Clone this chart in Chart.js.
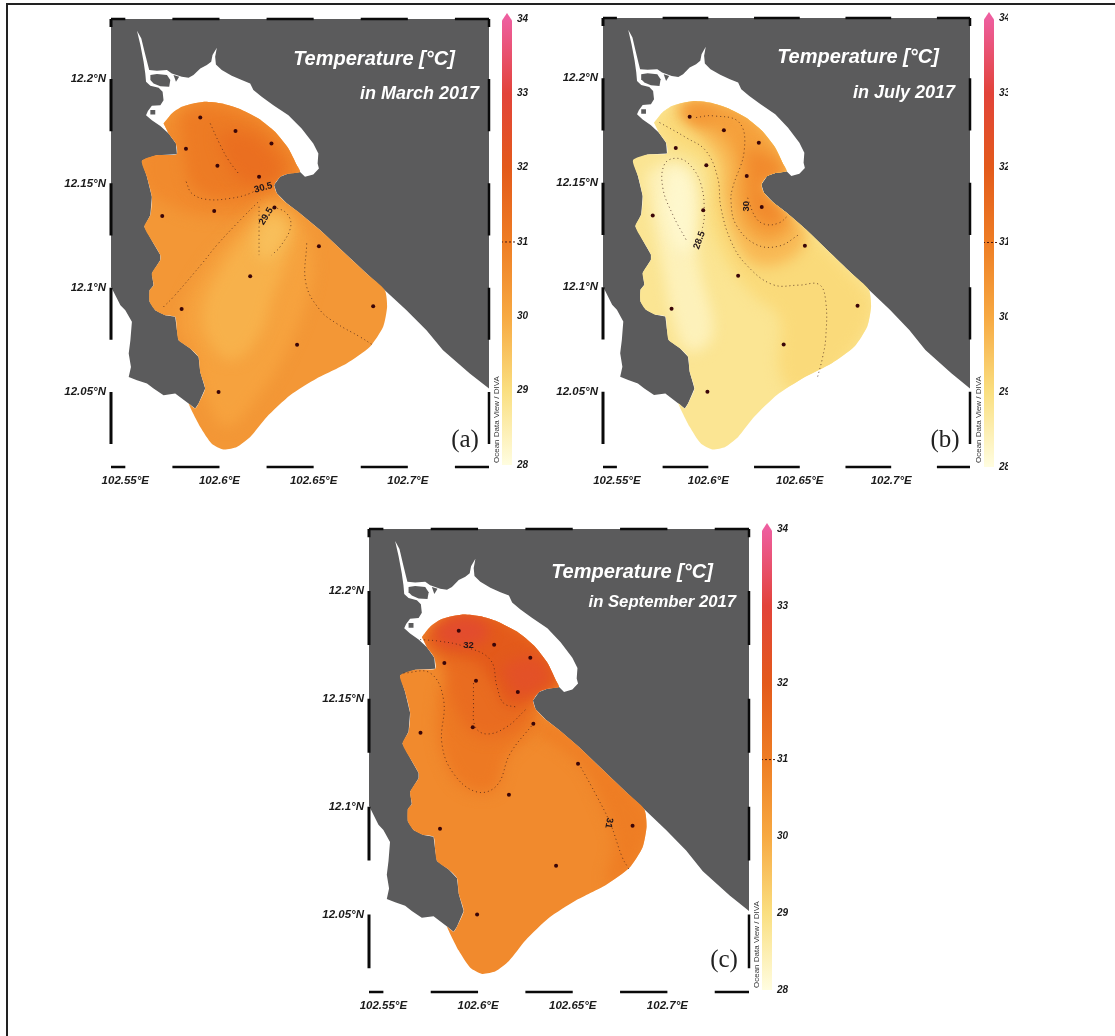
<!DOCTYPE html>
<html>
<head>
<meta charset="utf-8">
<title>Temperature maps 2017</title>
<script src="https://cdn.jsdelivr.net/npm/chart.js@4"></script>
<style>
html, body { margin: 0; padding: 0; background: #fff; }
body { position: relative; width: 1115px; height: 1036px; overflow: hidden; }
canvas { position: absolute; }
.rule { position: absolute; background: #222; }
</style>
</head>
<body>
<div class="rule" style="left:6px;top:3px;width:1109px;height:2px"></div>
<div class="rule" style="left:6px;top:3px;width:2px;height:1033px"></div>
<script>
// axis domain and ticks
const lonRange = [102.5424, 102.7431];
const latRange = [12.014, 12.2288];
const lonTicks = [102.55, 102.6, 102.65, 102.7];
const latTicks = [12.05, 12.1, 12.15, 12.2];
const lonBars = [[102.5424, 102.55], [102.575, 102.6], [102.625, 102.65], [102.675, 102.7], [102.725, 102.7431]];
const latBars = [[12.2288, 12.225], [12.2, 12.175], [12.15, 12.125], [12.1, 12.075], [12.05, 12.025]];

// colour bar
const colorTemps = [28, 29, 30, 31, 32, 33, 34];
const colorHex = ['#FFFDE0', '#FADF80', '#F7A942', '#EE7D24', '#E35A1B', '#E2433A', '#EE5E9E'];
const barTicks = [28, 29, 30, 31, 32, 33, 34];

// sampling stations [lon, lat]
const stations = [[102.5898,12.1816],[102.6085,12.1751],[102.6276,12.1691],[102.5822,12.1666],[102.5989,12.1584],
  [102.6210,12.1532],[102.6292,12.1384],[102.5972,12.1368],[102.5696,12.1343],[102.6528,12.1199],
  [102.6163,12.1055],[102.5799,12.0897],[102.6816,12.0911],[102.6412,12.0726],[102.5995,12.0500]];

// coast pieces [lon, lat]
const northShore = [[102.5562,12.2232],[102.5585,12.2195],[102.5602,12.2131],[102.5620,12.2067],[102.5627,12.2043],[102.5668,12.2040],
  [102.5721,12.2043],[102.5747,12.2027],[102.5800,12.2011],[102.5836,12.2006],[102.5862,12.2019],[102.5898,12.2051],[102.5933,12.2067],
  [102.5956,12.2083],[102.5963,12.2115],[102.5986,12.2150],[102.5977,12.2107],[102.5981,12.2070],[102.6012,12.2043],[102.6065,12.2016],
  [102.6118,12.1995],[102.6163,12.1979],[102.6180,12.1947],[102.6224,12.1915],[102.6286,12.1875],[102.6366,12.1827],[102.6436,12.1763],
  [102.6498,12.1691],[102.6525,12.1643],[102.6521,12.1595],[102.6528,12.1571],[102.6498,12.1543],[102.6454,12.1532]];
const eastCoast = [[102.6428,12.1555],[102.6366,12.1547],[102.6322,12.1532],[102.6290,12.1492],[102.6304,12.1452],[102.6357,12.1404],
  [102.6428,12.1356],[102.6534,12.1276],[102.6657,12.1172],[102.6781,12.1068],[102.6878,12.0988]];
const seaEast = [[102.6993,12.0892],[102.7099,12.0796],[102.7187,12.0700],[102.7329,12.0588],[102.7431,12.0516],
  [102.7431,12.014],[102.5424,12.014],[102.5424,12.1004]];
const southWest = [[102.5474,12.0916],[102.5500,12.0892],[102.5535,12.0836],[102.5527,12.0748],[102.5518,12.0684],[102.5530,12.0620],
  [102.5518,12.0572],[102.5562,12.0556],[102.5615,12.0540],[102.5650,12.0516],[102.5703,12.0484],[102.5765,12.0492]];
const westCoast = [[102.5836,12.0444],[102.5871,12.0420],[102.5889,12.0444],[102.5924,12.0516],[102.5898,12.0596],[102.5889,12.0668],
  [102.5845,12.0708],[102.5783,12.0748],[102.5774,12.0796],[102.5765,12.0860],[102.5712,12.0868],[102.5659,12.0892],[102.5629,12.0932],
  [102.5629,12.0988],[102.5650,12.1012],[102.5641,12.1068],[102.5686,12.1132],[102.5686,12.1156],[102.5650,12.1212],[102.5601,12.1292],
  [102.5633,12.1348],[102.5641,12.1436],[102.5615,12.1532],[102.5588,12.1608],[102.5668,12.1635],[102.5774,12.1640],[102.5769,12.1691],[102.5730,12.1739]];
const estuaryWest = [[102.5686,12.1775],[102.5641,12.1803],[102.5610,12.1827],[102.5620,12.1847],[102.5641,12.1872],[102.5686,12.1875],
  [102.5703,12.1899],[102.5698,12.1939],[102.5677,12.1958],[102.5633,12.1968],[102.5610,12.1987],[102.5606,12.2027],[102.5597,12.2083],[102.5580,12.2163]];
const islands = [
  [[102.5633,12.2019],[102.5668,12.2024],[102.5721,12.2019],[102.5739,12.1995],[102.5733,12.1963],[102.5686,12.1966],[102.5650,12.1979],[102.5633,12.1995]],
  [[102.5633,12.1852],[102.5659,12.1852],[102.5659,12.1830],[102.5633,12.1830]],
  [[102.5756,12.2019],[102.5786,12.2011],[102.5769,12.1987]]
];
const plumeNorth = [[102.5703,12.1787],[102.5747,12.1835],[102.5800,12.1867],[102.5862,12.1883],[102.5924,12.1891],[102.6012,12.1883],
  [102.6101,12.1859],[102.6207,12.1811],[102.6295,12.1747],[102.6366,12.1667],[102.6410,12.1588]];
const plumeSouth = [[102.6890,12.0908],[102.6869,12.0812],[102.6799,12.0716],[102.6675,12.0636],[102.6516,12.0564],[102.6375,12.0484],
  [102.6251,12.0380],[102.6163,12.0284],[102.6092,12.0236],[102.6021,12.0224],[102.5959,12.0252],[102.5898,12.0332]];

// March: temperature bands and isotherms
const marchBase = 30.4;
const marchBandTemps = [30.7, 31.05, 31.4, 30.15, 29.85, 29.6];
const marchBands = [
  [[102.5686,12.1775],[102.5924,12.1915],[102.6207,12.1835],[102.6445,12.1564],[102.6286,12.1436],[102.6145,12.1356],[102.5933,12.1340],[102.5756,12.1388],[102.5597,12.1484],[102.5580,12.1627]],
  [[102.5792,12.1827],[102.5933,12.1867],[102.6198,12.1787],[102.6375,12.1627],[102.6392,12.1547],[102.6286,12.1484],[102.6145,12.1436],[102.5951,12.1436],[102.5845,12.1500],[102.5809,12.1659]],
  [[102.5986,12.1739],[102.6145,12.1739],[102.6286,12.1643],[102.6322,12.1547],[102.6233,12.1500],[102.6110,12.1516],[102.6039,12.1595]],
  [[102.6251,12.1420],[102.6428,12.1324],[102.6498,12.1132],[102.6463,12.0940],[102.6357,12.0700],[102.6216,12.0492],[102.6039,12.0332],[102.5933,12.0460],[102.5862,12.0700],[102.5792,12.0844],[102.5898,12.1068],[102.6110,12.1292]],
  [[102.6269,12.1388],[102.6392,12.1308],[102.6357,12.1132],[102.6286,12.0972],[102.6216,12.0780],[102.6074,12.0652],[102.5951,12.0732],[102.5915,12.0908],[102.6039,12.1132],[102.6163,12.1276]],
  [[102.6286,12.1356],[102.6357,12.1292],[102.6322,12.1196],[102.6251,12.1132],[102.6198,12.1164],[102.6198,12.1276]]
];
const marchIsotherms = [
  [[102.5951,12.1787],[102.6000,12.1691],[102.6048,12.1611],[102.6101,12.1547]],
  [[102.5823,12.1508],[102.5853,12.1452],[102.5933,12.1423],[102.6057,12.1428],[102.6163,12.1452],[102.6216,12.1484]],
  [[102.5703,12.0908],[102.5756,12.0956],[102.5915,12.1124],[102.5986,12.1204],[102.6127,12.1340],[102.6216,12.1420]],
  [[102.6286,12.1388],[102.6357,12.1356],[102.6378,12.1292],[102.6322,12.1196],[102.6277,12.1156]],
  [[102.6210,12.1388],[102.6210,12.1260],[102.6210,12.1156]],
  [[102.6463,12.1212],[102.6459,12.1020],[102.6534,12.0892],[102.6622,12.0828],[102.6746,12.0764],[102.6816,12.0724]]
];

// July
const julyBase = 28.8;
const julyBandTemps = [29.1, 29.7, 30.2, 30.7, 30.4, 28.4, 28.2];
const julyBands = [
  [[102.5696,12.1788],[102.5915,12.1891],[102.6206,12.1843],[102.6405,12.1668],[102.6442,12.1540],[102.6296,12.1476],[102.6387,12.1396],[102.6878,12.0965],[102.6887,12.0853],[102.6769,12.0677],[102.6606,12.0550],[102.6460,12.0502],[102.6387,12.0613],[102.6387,12.0853],[102.6242,12.0965],[102.6096,12.1125],[102.6005,12.1348],[102.5987,12.1588],[102.5805,12.1684]],
  [[102.5805,12.1859],[102.5915,12.1899],[102.6206,12.1851],[102.6415,12.1668],[102.6442,12.1540],[102.6296,12.1476],[102.6387,12.1380],[102.6533,12.1268],[102.6460,12.1141],[102.6260,12.1109],[102.6133,12.1252],[102.6078,12.1428],[102.6060,12.1604],[102.5951,12.1732]],
  [[102.5878,12.1883],[102.6169,12.1843],[102.6387,12.1652],[102.6433,12.1540],[102.6296,12.1492],[102.6369,12.1396],[102.6460,12.1316],[102.6351,12.1220],[102.6224,12.1268],[102.6151,12.1428],[102.6151,12.1604],[102.6060,12.1732],[102.5878,12.1812]],
  [[102.6206,12.1668],[102.6351,12.1620],[102.6405,12.1540],[102.6287,12.1492],[102.6369,12.1396],[102.6415,12.1332],[102.6315,12.1300],[102.6224,12.1380]],
  [[102.5842,12.1843],[102.5951,12.1875],[102.6060,12.1828],[102.5951,12.1772]],
  [[102.5769,12.1604],[102.5896,12.1572],[102.5951,12.1412],[102.5933,12.1252],[102.5951,12.1093],[102.6024,12.0773],[102.5896,12.0693],[102.5805,12.0853],[102.5751,12.1093],[102.5696,12.1332],[102.5660,12.1540]],
  [[102.5787,12.1572],[102.5878,12.1540],[102.5915,12.1380],[102.5896,12.1173],[102.5824,12.1189],[102.5751,12.1380]]
];
const julyIsotherms = [
  [[102.5878,12.1228],[102.5805,12.1348],[102.5751,12.1476],[102.5760,12.1588],[102.5824,12.1617],[102.5896,12.1588],[102.5960,12.1492],[102.5978,12.1348],[102.5965,12.1268]],
  [[102.5733,12.1788],[102.5878,12.1716],[102.5987,12.1652],[102.6051,12.1524],[102.6069,12.1380],[102.6124,12.1220],[102.6206,12.1109],[102.6351,12.1013],[102.6496,12.1010],[102.6606,12.1013],[102.6642,12.0933],[102.6642,12.0757],[102.6624,12.0661],[102.6596,12.0566]],
  [[102.5933,12.1812],[102.6024,12.1820],[102.6169,12.1788],[102.6196,12.1652],[102.6133,12.1476],[102.6124,12.1412],[102.6151,12.1300],[102.6260,12.1205],[102.6387,12.1197],[102.6496,12.1252]],
  [[102.6215,12.1428],[102.6260,12.1332],[102.6315,12.1300],[102.6387,12.1308],[102.6433,12.1340]]
];

// September
const septBase = 30.7;
const septBandTemps = [31.0, 31.1, 31.5, 32.0, 32.6, 32.4];
const septBands = [
  [[102.6294,12.1387],[102.6435,12.1356],[102.6885,12.0998],[102.6885,12.0828],[102.6788,12.0688],[102.6682,12.0641],[102.6717,12.0828],[102.6629,12.1061],[102.6523,12.1216],[102.6294,12.1356]],
  [[102.5800,12.1542],[102.5976,12.1651],[102.6294,12.1511],[102.6311,12.1387],[102.6153,12.1231],[102.6082,12.1076],[102.5923,12.1092],[102.5818,12.1231],[102.5782,12.1387]],
  [[102.5694,12.1759],[102.5906,12.1899],[102.6223,12.1821],[102.6435,12.1589],[102.6294,12.1495],[102.6258,12.1402],[102.6117,12.1325],[102.5976,12.1340],[102.5870,12.1480],[102.5818,12.1651]],
  [[102.5712,12.1783],[102.5906,12.1896],[102.6223,12.1814],[102.6426,12.1589],[102.6294,12.1511],[102.6170,12.1464],[102.6082,12.1573],[102.5994,12.1666],[102.5835,12.1713]],
  [[102.5765,12.1821],[102.5906,12.1884],[102.6047,12.1845],[102.6029,12.1767],[102.5888,12.1744],[102.5800,12.1759]],
  [[102.6117,12.1651],[102.6294,12.1697],[102.6382,12.1604],[102.6294,12.1526],[102.6188,12.1511]]
];
const septIsotherms = [
  [[102.5694,12.1775],[102.5800,12.1767],[102.5923,12.1744],[102.6064,12.1682],[102.6100,12.1557],[102.6135,12.1480],[102.6206,12.1461]],
  [[102.5976,12.1573],[102.5976,12.1480],[102.5985,12.1371],[102.6047,12.1337],[102.6153,12.1371],[102.6250,12.1449]],
  [[102.5606,12.1620],[102.5747,12.1620],[102.5818,12.1495],[102.5809,12.1293],[102.5870,12.1154],[102.5994,12.1068],[102.6100,12.1099],[102.6170,12.1247],[102.6294,12.1387]],
  [[102.6532,12.1200],[102.6629,12.1045],[102.6699,12.0921],[102.6761,12.0766],[102.6796,12.0711]]
];

function pts(list) { return list.map(p => ({x: p[0], y: p[1]})); }

function tempColor(t) {
  let i = Math.min(Math.floor(t - colorTemps[0]), colorTemps.length - 2);
  const f = t - colorTemps[i];
  const a = colorHex[i], b = colorHex[i + 1];
  const c = [1, 3, 5].map(k => {
    const p = parseInt(a.substr(k, 2), 16), q = parseInt(b.substr(k, 2), 16);
    return Math.round(p + (q - p) * f);
  });
  return `rgb(${c[0]},${c[1]},${c[2]})`;
}

// soft edges for the temperature bands, has to run before the Filler hook
const softBands = {
  id: 'softBands',
  beforeDatasetDraw(chart, args) {
    const ds = chart.data.datasets[args.index];
    if (!ds.soft) return;
    const plume = chart.data.datasets.findIndex(d => d.isPlume);
    const c = chart.ctx;
    c.save();
    c.beginPath();
    chart.getDatasetMeta(plume).dataset.path(c);
    c.closePath();
    c.clip();
    c.filter = 'blur(7px)';
  },
  afterDatasetDraw(chart, args) {
    if (chart.data.datasets[args.index].soft) chart.ctx.restore();
  }
};
Chart.unregister(Chart.Filler);
Chart.register(softBands);
Chart.register(Chart.Filler);

const mapText = {
  id: 'mapText',
  afterDatasetsDraw(chart, args, opts) {
    const c = chart.ctx;
    for (const t of opts.items || []) {
      let x = t.x, y = t.y;
      if (t.lon !== undefined) {
        x = chart.scales.x.getPixelForValue(t.lon);
        y = chart.scales.y.getPixelForValue(t.lat);
      }
      c.save();
      c.translate(x, y);
      c.rotate((t.rot || 0) * Math.PI / 180);
      c.font = t.font;
      c.fillStyle = t.color;
      c.textAlign = t.align || 'center';
      c.textBaseline = t.base || 'alphabetic';
      c.fillText(t.text, 0, 0);
      c.restore();
    }
  }
};

function addCanvas(left, top, width, height) {
  const el = document.createElement('canvas');
  el.width = width;
  el.height = height;
  el.style.left = left + 'px';
  el.style.top = top + 'px';
  document.body.appendChild(el);
  return el;
}

const TICK_FONT = {family: '"Liberation Sans", Arial, sans-serif', size: 11.5, style: 'italic', weight: 'bold'};

function drawMap(p) {
  const pad = {left: 62, top: 6, right: 16, bottom: 30};
  const [fl, ft, fw, fh] = p.frame;
  const cl = fl - pad.left, ct = ft - pad.top;
  const el = addCanvas(cl, ct, pad.left + fw + pad.right, pad.top + fh + pad.bottom);

  const layers = [];
  const poly = (list, color, extra) => layers.push(Object.assign(
    {data: pts(list), showLine: true, fill: 'shape', backgroundColor: color, borderWidth: 0, pointRadius: 0}, extra));

  poly([[lonRange[0], latRange[0]], [lonRange[1], latRange[0]], [lonRange[1], latRange[1]], [lonRange[0], latRange[1]]], '#5b5b5c');
  poly([...northShore, ...eastCoast, ...seaEast, ...southWest, ...westCoast, ...estuaryWest], '#ffffff');
  islands.forEach(i => poly(i, '#5b5b5c'));
  poly([...plumeNorth, ...eastCoast, ...plumeSouth, ...westCoast], tempColor(p.base), {isPlume: true, tension: 0.2});
  p.bands.forEach((b, i) => poly(b, tempColor(p.bandTemps[i]), {soft: true, tension: 0.4}));

  p.isotherms.forEach(l => layers.push({
    data: pts(l), showLine: true, fill: false, borderColor: 'rgba(60,25,20,0.75)', borderWidth: 1,
    borderDash: [1, 3], tension: 0.4, pointRadius: 0
  }));

  layers.push({data: pts(stations), showLine: false, pointRadius: 2, pointBackgroundColor: '#3a0508', pointBorderWidth: 0});

  const bars = (pairs, fixedAxis, value) => pairs.flatMap(([a, b]) => fixedAxis === 'y'
    ? [{x: a, y: value}, {x: b, y: value}, {x: NaN, y: NaN}]
    : [{x: value, y: a}, {x: value, y: b}, {x: NaN, y: NaN}]);
  [[lonBars, 'y', latRange[0], 2.5], [lonBars, 'y', latRange[1], 2.5],
   [latBars, 'x', lonRange[0], 3], [latBars, 'x', lonRange[1], 2.5]].forEach(([pairs, axis, v, w]) => layers.push({
    data: bars(pairs, axis, v), showLine: true, fill: false, borderColor: '#0a0a0a', borderWidth: w,
    pointRadius: 0, clip: false, spanGaps: false
  }));

  const items = p.labels.map(t => Object.assign({font: 'bold 9.5px "Liberation Sans"', color: '#22151a', base: 'middle'}, t));
  p.captions.forEach(t => items.push(Object.assign({}, t, {x: t.x - cl, y: t.y - ct})));

  new Chart(el, {
    type: 'scatter',
    data: {datasets: layers.reverse()},
    options: {
      responsive: false,
      animation: false,
      events: [],
      layout: {autoPadding: false, padding: {top: pad.top, right: pad.right, left: 0, bottom: 0}},
      plugins: {legend: {display: false}, tooltip: {enabled: false}, mapText: {items}},
      scales: {
        x: {
          type: 'linear', min: lonRange[0], max: lonRange[1],
          grid: {display: false, drawTicks: false}, border: {display: false},
          afterBuildTicks: s => { s.ticks = lonTicks.map(v => ({value: v})); },
          afterFit: s => { s.height = pad.bottom; s.paddingLeft = 0; s.paddingRight = 0; },
          ticks: {callback: v => v + '°E', font: TICK_FONT, color: '#1a1a1a', padding: 7, maxRotation: 0, autoSkip: false}
        },
        y: {
          type: 'linear', min: latRange[0], max: latRange[1],
          grid: {display: false, drawTicks: false}, border: {display: true, color: '#a8a8a8', width: 1},
          afterBuildTicks: s => { s.ticks = latTicks.map(v => ({value: v})); },
          afterFit: s => { s.width = pad.left; s.paddingTop = 0; s.paddingBottom = 0; },
          ticks: {callback: v => v + '°N', font: TICK_FONT, color: '#1a1a1a', padding: 5, autoSkip: false}
        }
      }
    },
    plugins: [mapText]
  });
}

function drawBar(p) {
  const [bl, tipTop, bottom, canvasW] = p.bar;
  const pad = 9;
  const el = addCanvas(bl, tipTop - pad, canvasW, bottom - tipTop + pad * 2);
  const tipMax = 34.08;
  new Chart(el, {
    type: 'scatter',
    data: {datasets: [
      {data: [{x: -0.1, y: 31}, {x: 1.5, y: 31}], showLine: true, fill: false, borderColor: '#4a1a10', borderWidth: 1, borderDash: [2, 2], pointRadius: 0, clip: false},
      {
        data: [{x: 0, y: 28}, {x: 1, y: 28}, {x: 1, y: 33.98}, {x: 0.5, y: tipMax}, {x: 0, y: 33.98}],
        showLine: true, fill: 'shape', borderWidth: 0, pointRadius: 0,
        backgroundColor: ctx => {
          const chart = ctx.chart;
          if (!chart.chartArea) return colorHex[0];
          const y = chart.scales.y;
          const g = chart.ctx.createLinearGradient(0, y.getPixelForValue(28), 0, y.getPixelForValue(34));
          colorTemps.forEach((t, i) => g.addColorStop((t - 28) / 6, colorHex[i]));
          return g;
        }
      }
    ]},
    options: {
      responsive: false,
      animation: false,
      events: [],
      layout: {autoPadding: false, padding: {top: pad, bottom: pad, left: 0, right: 0}},
      plugins: {legend: {display: false}, tooltip: {enabled: false}},
      scales: {
        x: {type: 'linear', display: false, min: 0, max: 1, afterFit: s => { s.height = 0; }},
        y: {
          type: 'linear', position: 'right', min: 28, max: tipMax,
          grid: {display: false, drawTicks: false}, border: {display: false},
          afterBuildTicks: s => { s.ticks = barTicks.map(v => ({value: v})); },
          afterFit: s => { s.width = canvasW - 10; s.paddingTop = 0; s.paddingBottom = 0; },
          ticks: {font: Object.assign({}, TICK_FONT, {size: 10}), color: '#1a1a1a', padding: 5, autoSkip: false}
        }
      }
    }
  });
}

const SANS_TITLE = 'italic bold 20px "Liberation Sans"';
const SERIF_TAG = '25px "Liberation Serif"';
const ODV = '8px "Liberation Sans"';

const panels = [
  {
    frame: [111, 19, 378, 448], bar: [502, 13, 465, 36],
    base: marchBase, bandTemps: marchBandTemps, bands: marchBands, isotherms: marchIsotherms,
    labels: [{text: '30.5', lon: 102.6233, lat: 12.1479, rot: -15}, {text: '29.5.', lon: 102.6251, lat: 12.1348, rot: -58}],
    captions: [
      {text: 'Temperature [°C]', x: 374, y: 65, font: SANS_TITLE, color: '#fff'},
      {text: 'in March 2017', x: 479, y: 99, align: 'right', font: 'italic bold 18px "Liberation Sans"', color: '#fff'},
      {text: '(a)', x: 465, y: 447, font: SERIF_TAG, color: '#222'},
      {text: 'Ocean Data View / DIVA', x: 499, y: 463, rot: -90, align: 'left', font: ODV, color: '#333'}
    ]
  },
  {
    frame: [603, 18, 367, 449], bar: [984, 12, 467, 24],
    base: julyBase, bandTemps: julyBandTemps, bands: julyBands, isotherms: julyIsotherms,
    labels: [{text: '30', lon: 102.6209, lat: 12.1388, rot: -90}, {text: '28.5', lon: 102.5951, lat: 12.1225, rot: -70}],
    captions: [
      {text: 'Temperature [°C]', x: 858, y: 63, font: SANS_TITLE, color: '#fff'},
      {text: 'in July 2017', x: 955, y: 98, align: 'right', font: 'italic bold 18px "Liberation Sans"', color: '#fff'},
      {text: '(b)', x: 945, y: 447, font: SERIF_TAG, color: '#222'},
      {text: 'Ocean Data View / DIVA', x: 981, y: 463, rot: -90, align: 'left', font: ODV, color: '#333'}
    ]
  },
  {
    frame: [369, 529, 380, 463], bar: [762, 523, 990, 36],
    base: septBase, bandTemps: septBandTemps, bands: septBands, isotherms: septIsotherms,
    labels: [{text: '32', lon: 102.5950, lat: 12.1747, rot: 0}, {text: '31', lon: 102.6691, lat: 12.0924, rot: 100}],
    captions: [
      {text: 'Temperature [°C]', x: 632, y: 578, font: SANS_TITLE, color: '#fff'},
      {text: 'in September 2017', x: 736, y: 607, align: 'right', font: 'italic bold 16.7px "Liberation Sans"', color: '#fff'},
      {text: '(c)', x: 724, y: 967, font: SERIF_TAG, color: '#222'},
      {text: 'Ocean Data View / DIVA', x: 759, y: 988, rot: -90, align: 'left', font: ODV, color: '#333'}
    ]
  }
];

panels.forEach(p => { drawMap(p); drawBar(p); });
</script>
</body>
</html>
